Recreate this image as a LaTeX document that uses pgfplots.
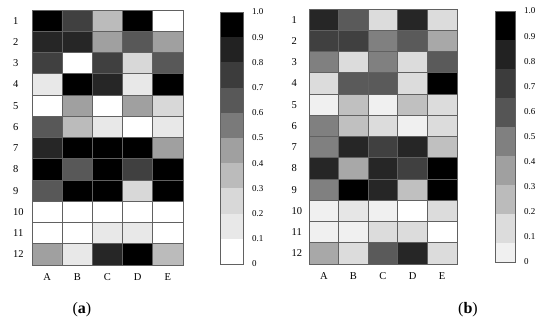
\documentclass[border=0pt]{standalone}
\usepackage{pgfplots}
\usepackage{pgfplotstable}
\pgfplotsset{compat=1.18}
\usepackage{fontspec}
\setmainfont{Liberation Serif}

\pgfplotsset{
  colormap={pa}{rgb255=(255,255,255) rgb255=(232,232,232) rgb255=(216,216,216) rgb255=(187,187,187) rgb255=(160,160,160) rgb255=(122,122,122) rgb255=(88,88,88) rgb255=(64,64,64) rgb255=(38,38,38) rgb255=(0,0,0)},
  colormap={pb}{rgb255=(255,255,255) rgb255=(240,240,240) rgb255=(230,230,230) rgb255=(220,220,220) rgb255=(192,192,192) rgb255=(168,168,168) rgb255=(128,128,128) rgb255=(90,90,90) rgb255=(64,64,64) rgb255=(38,38,38) rgb255=(0,0,0)},
  heat/.style={
    scale only axis, width=#1, height=255pt, anchor=south west,
    xmin=-0.5, xmax=4.5, ymin=0.5, ymax=12.5, y dir=reverse,
    xtick={0,1,2,3,4}, xticklabels={A,B,C,D,E},
    ytick={1,2,3,4,5,6,7,8,9,10,11,12},
    yticklabels={1,2,3,4,5,6,7,8,9,10,11,12},
    major tick length=0pt, minor tick length=0pt,
    minor xtick={0.5,1.5,2.5,3.5},
    minor ytick={1.5,2.5,3.5,4.5,5.5,6.5,7.5,8.5,9.5,10.5,11.5},
    xminorgrids, yminorgrids,
    minor grid style={draw=black!62, line width=0.6pt},
    axis line style={draw=black!62, line width=0.7pt},
    axis on top,
    ticklabel style={font=\fontsize{10.5}{11}\selectfont, inner sep=0pt},
    xticklabel style={anchor=north, yshift=-8.5pt},
    /pgf/number format/assume math mode=true,
  },
  cbar/.style={
    scale only axis, anchor=south west,
    xmin=-0.5, xmax=0.5, ymin=0, ymax=1,
    xtick=\empty,
    ytick={0,0.1,0.2,0.3,0.4,0.5,0.6,0.7,0.8,0.9,1},
    yticklabels={0,0.1,0.2,0.3,0.4,0.5,0.6,0.7,0.8,0.9,1.0},
    yticklabel pos=right,
    major tick length=0pt,
    axis line style={draw=black!62, line width=0.7pt},
    axis on top,
    yticklabel style={font=\fontsize{9}{10}\selectfont, anchor=west, inner sep=0pt, xshift=9pt},
    /pgf/number format/assume math mode=true,
  },
}

\pgfplotstableread{
x y v
0 1 0.95
1 1 0.75
2 1 0.35
3 1 0.95
4 1 0.05
0 2 0.85
1 2 0.85
2 2 0.45
3 2 0.65
4 2 0.45
0 3 0.75
1 3 0.05
2 3 0.75
3 3 0.25
4 3 0.65
0 4 0.15
1 4 0.95
2 4 0.85
3 4 0.15
4 4 0.95
0 5 0.05
1 5 0.45
2 5 0.05
3 5 0.45
4 5 0.25
0 6 0.65
1 6 0.35
2 6 0.15
3 6 0.05
4 6 0.15
0 7 0.85
1 7 0.95
2 7 0.95
3 7 0.95
4 7 0.45
0 8 0.95
1 8 0.65
2 8 0.95
3 8 0.75
4 8 0.95
0 9 0.65
1 9 0.95
2 9 0.95
3 9 0.25
4 9 0.95
0 10 0.05
1 10 0.05
2 10 0.05
3 10 0.05
4 10 0.05
0 11 0.05
1 11 0.05
2 11 0.15
3 11 0.15
4 11 0.05
0 12 0.45
1 12 0.15
2 12 0.85
3 12 0.95
4 12 0.35
}\dataA

\pgfplotstableread{
x y v
0 1 0.85
1 1 0.65
2 1 0.25
3 1 0.85
4 1 0.25
0 2 0.75
1 2 0.75
2 2 0.55
3 2 0.65
4 2 0.45
0 3 0.55
1 3 0.25
2 3 0.55
3 3 0.25
4 3 0.65
0 4 0.25
1 4 0.65
2 4 0.65
3 4 0.25
4 4 0.95
0 5 0.05
1 5 0.35
2 5 0.05
3 5 0.35
4 5 0.25
0 6 0.55
1 6 0.35
2 6 0.25
3 6 0.05
4 6 0.25
0 7 0.55
1 7 0.85
2 7 0.75
3 7 0.85
4 7 0.35
0 8 0.85
1 8 0.45
2 8 0.85
3 8 0.75
4 8 0.95
0 9 0.55
1 9 0.95
2 9 0.85
3 9 0.35
4 9 0.95
0 10 0.05
1 10 0.15
2 10 0.05
3 10 -0.05
4 10 0.25
0 11 0.05
1 11 0.05
2 11 0.25
3 11 0.25
4 11 -0.05
0 12 0.45
1 12 0.25
2 12 0.65
3 12 0.85
4 12 0.25
}\dataB

\begin{document}
\begin{tikzpicture}[x=1pt,y=1pt]
\path[use as bounding box] (0,0) rectangle (550,-323);

% ---- heatmap (a)
\begin{axis}[heat=151pt, at={(32pt,-265pt)},
  yticklabel style={anchor=west, xshift=-19pt},
  colormap name=pa, colormap access=direct]
\addplot[matrix plot*, mesh/cols=5, point meta={floor(10*\thisrow{v})}] table[x=x,y=y] {\dataA};
\end{axis}

% ---- colorbar (a)
\begin{axis}[cbar, at={(220pt,-264pt)}, width=23pt, height=252pt]
\addplot[fill={rgb,255:red,255;green,255;blue,255}, draw=none] coordinates {(-0.5,0) (0.5,0) (0.5,0.1) (-0.5,0.1)} -- cycle;
\addplot[fill={rgb,255:red,232;green,232;blue,232}, draw=none] coordinates {(-0.5,0.1) (0.5,0.1) (0.5,0.2) (-0.5,0.2)} -- cycle;
\addplot[fill={rgb,255:red,216;green,216;blue,216}, draw=none] coordinates {(-0.5,0.2) (0.5,0.2) (0.5,0.3) (-0.5,0.3)} -- cycle;
\addplot[fill={rgb,255:red,187;green,187;blue,187}, draw=none] coordinates {(-0.5,0.3) (0.5,0.3) (0.5,0.4) (-0.5,0.4)} -- cycle;
\addplot[fill={rgb,255:red,160;green,160;blue,160}, draw=none] coordinates {(-0.5,0.4) (0.5,0.4) (0.5,0.5) (-0.5,0.5)} -- cycle;
\addplot[fill={rgb,255:red,122;green,122;blue,122}, draw=none] coordinates {(-0.5,0.5) (0.5,0.5) (0.5,0.6) (-0.5,0.6)} -- cycle;
\addplot[fill={rgb,255:red,88;green,88;blue,88}, draw=none] coordinates {(-0.5,0.6) (0.5,0.6) (0.5,0.7) (-0.5,0.7)} -- cycle;
\addplot[fill={rgb,255:red,60;green,60;blue,60}, draw=none] coordinates {(-0.5,0.7) (0.5,0.7) (0.5,0.8) (-0.5,0.8)} -- cycle;
\addplot[fill={rgb,255:red,34;green,34;blue,34}, draw=none] coordinates {(-0.5,0.8) (0.5,0.8) (0.5,0.9) (-0.5,0.9)} -- cycle;
\addplot[fill=black, draw=none] coordinates {(-0.5,0.9) (0.5,0.9) (0.5,1) (-0.5,1)} -- cycle;
\end{axis}

% ---- heatmap (b)
\begin{axis}[heat=148pt, at={(309pt,-264pt)},
  yticklabel style={anchor=west, xshift=-17.5pt},
  colormap name=pb, colormap access=direct]
\addplot[matrix plot*, mesh/cols=5, point meta={floor(10*\thisrow{v})+1}] table[x=x,y=y] {\dataB};
\end{axis}

% ---- colorbar (b)
\begin{axis}[cbar, at={(495pt,-262pt)}, width=20pt, height=251pt]
\addplot[fill={rgb,255:red,240;green,240;blue,240}, draw=none] coordinates {(-0.5,0) (0.5,0) (0.5,0.0757) (-0.5,0.0757)} -- cycle;
\addplot[fill={rgb,255:red,220;green,220;blue,220}, draw=none] coordinates {(-0.5,0.0757) (0.5,0.0757) (0.5,0.1912) (-0.5,0.1912)} -- cycle;
\addplot[fill={rgb,255:red,187;green,187;blue,187}, draw=none] coordinates {(-0.5,0.1912) (0.5,0.1912) (0.5,0.3067) (-0.5,0.3067)} -- cycle;
\addplot[fill={rgb,255:red,160;green,160;blue,160}, draw=none] coordinates {(-0.5,0.3067) (0.5,0.3067) (0.5,0.4222) (-0.5,0.4222)} -- cycle;
\addplot[fill={rgb,255:red,128;green,128;blue,128}, draw=none] coordinates {(-0.5,0.4222) (0.5,0.4222) (0.5,0.5377) (-0.5,0.5377)} -- cycle;
\addplot[fill={rgb,255:red,85;green,85;blue,85}, draw=none] coordinates {(-0.5,0.5377) (0.5,0.5377) (0.5,0.6532) (-0.5,0.6532)} -- cycle;
\addplot[fill={rgb,255:red,60;green,60;blue,60}, draw=none] coordinates {(-0.5,0.6532) (0.5,0.6532) (0.5,0.7687) (-0.5,0.7687)} -- cycle;
\addplot[fill={rgb,255:red,34;green,34;blue,34}, draw=none] coordinates {(-0.5,0.7687) (0.5,0.7687) (0.5,0.8842) (-0.5,0.8842)} -- cycle;
\addplot[fill=black, draw=none] coordinates {(-0.5,0.8842) (0.5,0.8842) (0.5,1) (-0.5,1)} -- cycle;
\end{axis}

\node[font=\fontsize{16}{17}\selectfont, inner sep=0pt] at (82,-310) {(\textbf{a})};
\node[font=\fontsize{16}{17}\selectfont, inner sep=0pt] at (468,-310) {(\textbf{b})};
\end{tikzpicture}
\end{document}
